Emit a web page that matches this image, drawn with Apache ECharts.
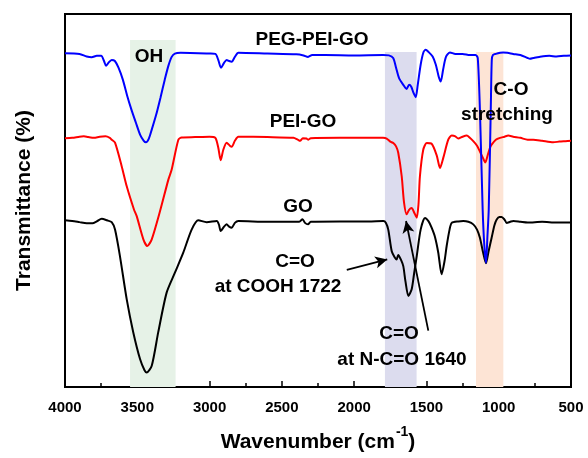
<!DOCTYPE html>
<html>
<head>
<meta charset="utf-8">
<script src="https://cdn.jsdelivr.net/npm/echarts@6/dist/echarts.min.js"></script>
<style>html,body{margin:0;padding:0;background:#fff;}#c{width:588px;height:458px;}</style>
</head>
<body>
<div id="c"></div>
<script>
// GO (black)
const goX = [4000,3950,3900,3850,3810,3780,3746,3710,3677,3654,3620,3573,3528,3481,3450,3435,3400,3355,3297,3239,3182,3124,3078,3020,2950,2935,2923,2900,2882,2865,2847,2825,2801,2600,2380,2357,2340,2319,2300,2100,1900,1798,1780,1764,1740,1720,1706,1695,1675,1660,1645,1625,1602,1585,1567,1540,1510,1485,1464,1440,1418,1395,1375,1360,1340,1325,1280,1245,1210,1176,1150,1130,1110,1088,1070,1049,1030,1014,995,980,960,945,920,899,850,800,700,600,500];
const goY = [44.7,44.5,44.2,43.9,43.9,44.4,45.1,44.7,44.2,42.2,35.1,23.5,14.7,7.5,4.5,3.9,5.7,14.7,25.3,30.7,36.0,42.2,44.7,44.2,44.5,43.5,41.8,43.0,43.6,43.0,42.7,44.0,44.5,44.3,44.3,45.0,44.0,43.6,44.3,44.4,44.4,44.5,44.0,42.2,36.4,34.8,34.2,35.4,34.0,32.4,28.3,24.4,26.2,30.5,35.1,42.2,45.3,44.4,42.7,40.1,36.0,30.2,33.7,37.8,42.2,44.0,44.4,44.5,44.3,43.6,42.2,40.0,36.4,33.2,36.4,40.0,43.3,44.9,45.6,45.6,44.9,44.0,44.3,44.5,44.3,44.1,44.3,44.1,44.1];

// PEI-GO (red)
const peiX = [4000,3950,3900,3870,3840,3800,3760,3720,3690,3677,3654,3608,3573,3523,3504,3458,3431,3400,3343,3285,3262,3216,3193,3100,3000,2960,2940,2923,2905,2882,2860,2847,2825,2801,2600,2420,2390,2374,2355,2330,2319,2300,2100,1900,1800,1775,1750,1729,1710,1695,1671,1655,1637,1620,1602,1585,1567,1555,1545,1522,1498,1464,1429,1406,1383,1349,1325,1300,1280,1250,1221,1200,1176,1150,1130,1110,1093,1075,1060,1049,1020,991,960,934,900,850,800,761,700,623,580,540,500];
const peiY = [66.7,66.8,67.1,67.2,67.0,66.8,67.1,67.2,66.8,66.3,65.5,59.2,53.8,47.6,45.8,39.6,37.8,39.6,47.1,55.6,58.3,66.3,66.9,67.0,67.1,66.8,64.2,60.8,63.6,65.5,64.7,64.4,66.0,67.1,67.0,66.8,66.3,66.0,66.7,66.6,66.3,66.7,66.8,66.8,66.8,66.6,65.8,65.4,64.5,62.8,56.5,49.5,46.3,47.5,48.0,46.8,45.4,49.0,56.5,63.6,65.4,65.2,62.1,58.7,61.5,66.3,67.4,67.2,66.6,67.1,67.4,66.8,65.9,64.7,63.1,61.5,60.2,62.3,64.2,65.0,66.3,66.8,67.1,67.4,67.1,66.8,66.3,66.3,66.0,65.6,65.8,65.9,66.0];

// PEG-PEI-GO (blue)
const pegX = [4000,3900,3850,3815,3780,3750,3730,3716,3700,3677,3655,3630,3600,3570,3540,3510,3480,3455,3440,3420,3400,3370,3340,3310,3285,3262,3240,3200,3000,2960,2940,2921,2900,2882,2865,2847,2825,2801,2600,2400,2350,2319,2290,2200,2000,1800,1760,1730,1710,1690,1660,1637,1620,1605,1590,1574,1560,1540,1520,1505,1485,1457,1435,1415,1401,1385,1365,1337,1300,1250,1200,1160,1145,1130,1111,1100,1088,1078,1069,1055,1048,1040,1020,990,970,940,900,850,800,784,760,720,650,600,550,500];
const pegY = [89.5,89.3,88.6,88.4,88.8,88.8,87.4,86.1,86.9,87.7,87.4,85.6,82.4,78.1,74.3,70.9,67.6,66.0,65.6,66.6,69.0,72.9,77.5,82.4,86.1,88.5,89.4,89.6,89.4,89.3,87.7,85.6,86.9,87.7,87.4,87.2,88.5,89.6,89.4,89.2,88.9,88.5,89.0,89.0,88.9,89.0,88.9,88.2,85.6,82.9,81.0,79.9,81.0,80.5,78.9,77.7,81.0,86.4,89.8,90.4,89.8,88.6,86.4,83.2,81.9,85.0,88.5,89.7,89.3,89.3,89.0,89.0,88.2,74.3,47.6,38.2,33.3,40.5,47.6,74.3,87.7,89.0,89.3,89.6,89.7,89.6,89.3,89.0,88.2,88.0,88.2,88.5,88.8,88.6,88.8,88.9];

// shaded bands [from, to, top]
const bandOH = [3550, 3235, 93.0];
const bandCO = [1787, 1568, 89.8];
const bandCOs = [1157, 968, 89.8];

// arrows [x1,y1,x2,y2]
const arrowCOOH = [2051, 31.4, 1771, 34.2];
const arrowNCO = [1487, 15.1, 1641, 44.5];

const FONT = "'Liberation Sans', Arial, sans-serif";
const pairs = (xs, ys) => xs.map((x, i) => [x, ys[i]]);

const chart = echarts.init(document.getElementById('c'), null, {renderer: 'canvas'});

const lineSeries = (name, xs, ys, color, z) => ({
  name, type: 'line', data: pairs(xs, ys), showSymbol: false, symbol: 'none',
  smooth: 0.25, lineStyle: {color, width: 2}, z, silent: true, animation: false
});

const txt = (text, x, y, size) => ({
  type: 'text', x, y, z: 100,
  style: {text, font: 'bold ' + size + 'px ' + FONT, fill: '#000', align: 'center', verticalAlign: 'middle'}
});

chart.setOption({
  animation: false,
  backgroundColor: '#fff',
  grid: {left: 65, right: 17, top: 14, bottom: 70, show: true, borderColor: '#000', borderWidth: 2, backgroundColor: 'transparent'},
  xAxis: {
    type: 'value', min: 500, max: 4000, interval: 500, inverse: true,
    axisLine: {show: true, lineStyle: {color: '#000', width: 2}},
    axisTick: {show: true, inside: true, length: 6, lineStyle: {color: '#000', width: 1.5}},
    minorTick: {show: true, splitNumber: 2, length: 4, lineStyle: {color: '#000', width: 1.5}},
    splitLine: {show: false},
    axisLabel: {color: '#000', fontSize: 15, fontWeight: 'bold', fontFamily: FONT, margin: 13, formatter: v => String(v)},
    name: '{a|Wavenumber (cm}{s|-1}{a|)}',
    nameLocation: 'middle', nameGap: 38,
    nameTextStyle: {
      rich: {
        a: {fontSize: 21, fontWeight: 'bold', fontFamily: FONT, color: '#000', lineHeight: 28, verticalAlign: 'bottom'},
        s: {fontSize: 14, fontWeight: 'bold', fontFamily: FONT, color: '#000', lineHeight: 28, verticalAlign: 'top', padding: [0, 0, 0, 1]}
      }
    }
  },
  yAxis: {
    type: 'value', min: 0, max: 100,
    axisLine: {show: true, lineStyle: {color: '#000', width: 2}},
    axisTick: {show: false}, axisLabel: {show: false}, splitLine: {show: false},
    name: 'Transmittance (%)', nameLocation: 'middle', nameGap: 30,
    nameTextStyle: {fontSize: 21, fontWeight: 'bold', fontFamily: FONT, color: '#000'}
  },
  series: [
    {
      type: 'line', data: [], z: 1, silent: true,
      markArea: {
        silent: true,
        data: [
          [{xAxis: bandOH[0], yAxis: bandOH[2], itemStyle: {color: '#e6f2e7'}}, {xAxis: bandOH[1], yAxis: 0}],
          [{xAxis: bandCO[0], yAxis: bandCO[2], itemStyle: {color: '#dcdcee'}}, {xAxis: bandCO[1], yAxis: 0}],
          [{xAxis: bandCOs[0], yAxis: bandCOs[2], itemStyle: {color: '#fde4d5'}}, {xAxis: bandCOs[1], yAxis: 0}]
        ]
      }
    },
    lineSeries('GO', goX, goY, '#000000', 2),
    lineSeries('PEI-GO', peiX, peiY, '#ff0000', 3),
    lineSeries('PEG-PEI-GO', pegX, pegY, '#0000ff', 4),
    {
      type: 'line', data: [], z: 10, silent: true,
      markLine: {
        silent: true, symbol: ['none', 'arrow'], symbolSize: [9, 12],
        label: {show: false},
        lineStyle: {color: '#000', width: 1.8, type: 'solid'},
        data: [
          [{coord: [arrowCOOH[0], arrowCOOH[1]]}, {coord: [arrowCOOH[2], arrowCOOH[3]]}],
          [{coord: [arrowNCO[0], arrowNCO[1]]}, {coord: [arrowNCO[2], arrowNCO[3]]}]
        ]
      }
    }
  ],
  graphic: [
    txt('PEG-PEI-GO', 312, 40, 19),
    txt('OH', 149, 57, 19),
    txt('PEI-GO', 303, 122, 19),
    txt('GO', 298, 207, 19),
    txt('C-O', 511, 90, 19),
    txt('stretching', 507, 115, 19),
    txt('C=O', 295, 262, 19),
    txt('at COOH 1722', 278, 287, 19),
    txt('C=O', 399, 334, 19),
    txt('at N-C=O 1640', 402, 360, 19)
  ]
});
</script>
</body>
</html>
